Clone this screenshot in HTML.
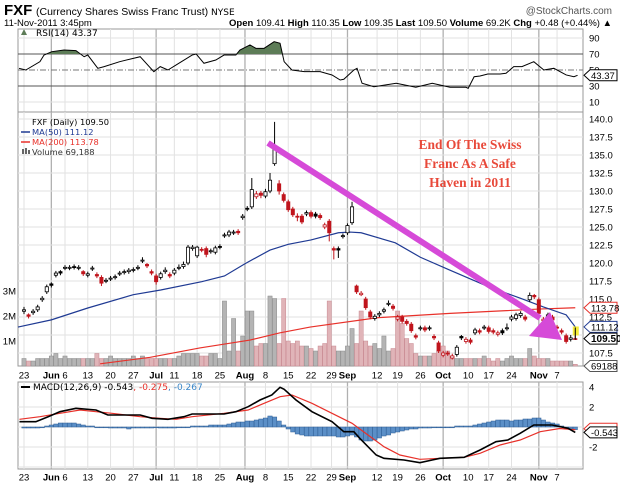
<!DOCTYPE html>
<html><head><meta charset="utf-8"><style>
html,body{margin:0;padding:0;background:#fff;}
svg{display:block;font-family:"Liberation Sans",sans-serif;}
</style></head><body>
<svg id="chart" width="620" height="484" viewBox="0 0 620 484" xmlns="http://www.w3.org/2000/svg">
<g>
<text x="4" y="15" font-size="15" font-weight="bold" fill="#000">FXF</text>
<text x="36" y="15" font-size="10.5" fill="#000">(Currency Shares Swiss Franc Trust) <tspan font-family="DejaVu Sans" font-size="9">NYSE</tspan></text>
<text x="612" y="14" font-size="10" fill="#555" text-anchor="end">@StockCharts.com</text>
<text x="4" y="26" font-size="9.5" fill="#000">11-Nov-2011 3:45pm</text>
<text x="612" y="26" font-size="9.5" fill="#000" text-anchor="end"><tspan font-weight="bold">Open</tspan> 109.41 <tspan font-weight="bold">High</tspan> 110.35 <tspan font-weight="bold">Low</tspan> 109.35 <tspan font-weight="bold">Last</tspan> 109.50 <tspan font-weight="bold">Volume</tspan> 69.2K <tspan font-weight="bold">Chg</tspan> +0.48 (+0.44%) ▲</text>
</g>
<g id="grid"></g>
<g id="marks"></g>
<g id="labels"></g>
</svg>
<script>
// ---- data ----
const closes=[113.5,112.6,113.3,113.9,115.1,116.7,116.9,118.6,118.6,119.4,
119.4,119.4,119.4,118.5,118.5,119.3,118.2,117.2,117.6,117.9,
118.1,118.6,118.8,119.0,119.1,119.4,120.4,119.6,118.6,117.4,
118.5,119.0,118.2,119.0,119.4,119.8,122.2,122.2,122.2,121.8,
121.2,121.7,122.1,122.2,123.9,124.3,124.3,124.2,126.5,127.5,
130.2,129.6,129.4,129.9,131.5,136.1,130.0,128.7,127.4,126.7,
126.4,125.7,127.0,126.5,126.5,126.3,125.3,124.2,121.8,121.8,
123.8,125.2,127.8,116.0,115.8,113.8,112.5,112.6,113.0,113.5,
114.4,113.7,112.5,111.9,111.6,110.6,109.7,111.0,110.7,111.0,
109.6,107.8,107.5,107.4,107.1,108.3,109.6,109.4,109.0,110.7,
110.4,111.1,110.5,110.4,110.3,110.3,111.0,112.5,112.8,113.0,
112.2,115.5,115.3,113.0,112.2,112.8,112.1,111.0,110.4,109.1,
109.6,109.5];
const opens=[113.3,112.8,113.1,113.5,114.9,116.0,117.1,118.3,118.8,119.3,
119.3,119.5,119.3,118.8,118.3,119.2,118.4,118.0,117.5,117.8,
118.0,118.5,118.7,118.8,119.0,119.3,120.3,119.8,118.8,118.2,
118.0,118.8,118.4,118.6,119.3,119.5,120.0,122.0,121.0,121.9,
122.0,121.6,121.5,122.3,123.8,123.9,124.2,124.4,126.3,127.6,
127.8,129.2,129.7,129.3,130.0,133.8,131.0,129.5,128.5,127.5,
126.5,126.5,126.8,127.0,126.8,126.6,125.0,125.8,122.0,122.0,
123.7,124.2,125.6,116.8,115.6,115.0,113.2,112.3,112.8,113.3,
114.3,114.0,112.2,112.5,111.9,111.5,109.9,110.9,111.0,110.9,
109.8,108.9,107.2,107.5,106.8,107.3,109.8,109.1,109.3,110.3,
110.6,111.0,111.0,110.6,110.1,110.6,110.9,112.2,112.3,112.7,
112.5,114.9,115.5,114.9,112.0,112.4,112.5,111.1,110.6,109.9,
109.4,109.41];
const highs=[113.9,113.0,113.6,114.2,115.4,117.0,117.3,118.9,119.0,119.7,
119.7,119.8,119.7,119.0,118.8,119.6,118.7,118.3,117.9,118.2,
118.4,118.9,119.1,119.3,119.4,119.7,120.8,120.0,119.1,118.5,
118.8,119.4,118.7,119.3,119.8,120.2,122.5,122.5,122.4,122.2,
122.3,122.0,122.4,122.6,124.2,124.6,124.6,124.7,126.8,127.9,
131.8,130.0,130.0,130.3,132.5,139.6,131.5,129.8,128.8,127.8,
126.9,126.8,127.3,127.3,127.1,126.9,125.6,126.1,122.3,122.3,
124.1,125.5,128.5,117.0,116.1,115.3,113.5,112.9,113.3,113.8,
114.8,114.3,112.8,112.8,112.2,111.8,110.2,111.3,111.3,111.3,
110.1,109.2,107.8,107.8,107.4,108.6,110.0,109.7,109.6,111.0,
110.9,111.4,111.3,110.9,110.6,110.9,111.6,112.8,113.1,113.3,
112.8,115.9,115.7,115.2,112.5,113.1,112.8,111.4,110.9,110.2,
110.0,110.35];
const lows=[112.9,112.3,112.8,113.2,114.6,115.7,116.6,118.0,118.3,119.0,
119.0,119.1,119.0,118.2,118.0,118.9,117.9,116.8,117.2,117.5,
117.7,118.2,118.4,118.5,118.7,119.0,120.0,119.3,118.3,117.0,
117.7,118.5,117.9,118.3,119.0,119.2,119.7,121.7,120.7,121.5,
120.8,121.3,121.2,121.9,123.5,123.6,123.9,123.9,126.0,127.2,
127.5,128.9,129.0,129.0,129.7,133.5,129.5,128.4,127.1,126.4,
125.8,125.4,126.5,126.2,126.2,126.0,124.7,123.0,120.5,120.7,
123.4,123.9,125.3,115.7,115.4,113.5,112.2,112.0,112.5,113.0,
114.0,113.4,111.9,111.6,111.3,110.3,109.4,110.6,110.4,110.6,
109.3,107.5,106.9,107.1,106.6,107.0,109.3,108.8,108.7,110.0,
110.1,110.7,110.2,110.1,109.8,110.0,110.6,111.9,112.0,112.4,
111.9,114.6,115.0,112.5,111.7,112.1,111.8,110.6,110.1,108.8,
109.1,109.35];
const volumesM=[.3,.2,.2,.3,.3,.3,.4,.5,.3,.4,
.3,.3,.3,.3,.3,.3,.5,.3,.3,.4,
.3,.3,.3,.3,.4,.3,.4,.3,.3,.3,
.3,.3,.3,.3,.4,.5,.5,.5,.5,.4,
.4,.5,.5,.3,2.6,.6,1.9,.6,1.2,2.2,
2.2,.8,.9,.9,2.8,2.7,.9,2.7,1.0,.9,
1.0,.8,.8,.7,.6,.8,.9,2.6,.8,.6,
.6,.8,1.5,.9,2.2,1.0,.8,.9,.7,1.2,
.6,.7,2.2,1.7,1.1,.9,.5,.4,.4,.4,
.5,.6,.8,.6,.4,.3,.3,.3,.3,.3,
.3,.4,.3,.2,.3,.2,.3,.4,.3,.3,
.3,.7,.4,.3,.3,.3,.2,.2,.2,.2,
.2,.07];
const ma50Days=[-5,6,14,24,30,39,44,48.5,54,58,63,69,71.5,74,81.5,87,93.5,102,109,114,119,121];
const ma50Vals=[111.1,112.1,113.75,115.6,116.25,117.4,118.2,119.9,121.8,122.6,123.2,124.2,124.3,124.2,122.8,120.8,119.0,116.7,115.1,113.9,112.8,111.12];
const ma200Days=[16.7,27.7,38.6,49.6,56.2,62.8,77.5,93.5,113,121];
const ma200Vals=[106.0,106.9,108.2,109.3,110.3,111.1,112.4,113.0,113.6,113.78];
const rsiDays=[-1.1,0.4,3.5,4.4,6.1,8.8,11.4,13.2,14,16.2,17.6,21,25.5,28.5,29.9,31.6,33.4,36.9,37.8,39.5,42.1,43.9,46.5,47.4,49.6,50.9,52.7,54.9,56.2,57.1,58.8,61.5,65,67.6,69.4,70.2,72.4,73.1,74.2,76.8,81.7,86,89.6,91.3,93.5,97,97.5,98.8,100.1,101.8,104.5,105.8,107.5,109.3,111.9,114.1,116.3,119,120.7,121.5];
const rsiVals=[52.1,50,60.4,68.7,72.9,75,74.2,66.6,68.7,52.1,54.2,60.4,66.6,47.9,54.2,50,56.3,68.7,70,58.4,62.5,68.7,68.7,75,81.3,77.1,77.1,85.4,83.4,60.4,50,47.9,47.9,43.8,37.5,38.4,50,52.1,33.4,29.1,33.4,28.4,33.4,31.3,28.4,28.4,27.1,41.6,42.5,45,45,45.9,54.2,54.2,60.4,50,52.1,43.8,41.6,43.37];
const macdDays=[-1,2.6,5.3,7.9,11.4,15.8,18.4,25.5,28.1,31.6,35.1,36.9,43.9,46.5,49.2,51.8,54.4,56.2,57.1,59.7,63.2,67.6,70.2,72.4,73.7,77.3,79,83.4,86.9,89.6,91.3,96.6,100.1,103.6,106.2,108.9,111.9,115.9,119.4,121];
const macdVals=[.53,.53,1.03,1.53,1.87,1.7,1.2,1.2,.87,.77,1.03,1.3,1.3,1.53,2.03,2.7,3.2,3.97,3.77,2.7,1.53,.53,-.47,-.47,-1.13,-2.8,-3.13,-3.3,-3.57,-3.3,-3.13,-3.03,-2.3,-1.47,-1.3,-.63,.2,.2,-.13,-.543];
const signalDays=[-1,3.5,7.9,12.3,15.8,19.3,25.5,29.9,33.4,36.9,43.9,49.2,52.7,56.2,58.8,63.2,67.6,72,75.5,79,82.5,86.9,91.3,96.6,100.1,104.5,108.9,113.3,117.6,121];
const signalVals=[.77,1.03,1.37,1.7,1.53,1.37,1.03,.87,.77,1.03,1.37,1.7,2.37,3.03,3.2,2.37,1.37,.37,-.8,-1.97,-2.8,-3.23,-3.13,-3.03,-2.63,-1.8,-1.3,-.47,-.15,-.275];
const histVals=[-.1,-.1,-.1,-.1,0,.1,.2,.3,.4,.4,
.4,.4,.3,.2,.1,.1,0,0,0,-.1,
-.1,-.1,-.1,-.2,-.1,-.1,-.1,-.1,-.1,0,
-.1,-.1,-.1,-.1,0,0,0,.1,.1,.1,
.1,.2,.2,.2,.2,.3,.4,.5,.5,.6,
.6,.7,.8,.9,1.1,1.0,.6,.2,-.2,-.5,
-.7,-.8,-.9,-.9,-.9,-.9,-.9,-.9,-.9,-1.0,
-1.0,-.9,-.8,-1.0,-1.3,-1.4,-1.4,-1.3,-1.1,-.9,
-.8,-.6,-.5,-.4,-.3,-.2,-.2,-.1,-.1,-.1,
0,0,0,0,0,.1,.1,.1,.1,.2,
.3,.4,.5,.6,.7,.7,.7,.6,.7,.7,
.8,.8,.9,.9,.7,.5,.4,.3,.1,-.1,
-.2,-.267];
const tickDays=[0,6,9,14,19,24,29,33,38,43,48.5,53,58,63,67.5,71,77.5,82,87,92,97.5,102,107,113,117];
const tickLabels=["23","Jun","6","13","20","27","Jul","11","18","25","Aug","8","15","22","29","Sep","12","19","26","Oct","10","17","24","Nov","7"];
const monthTick=[0,1,0,0,0,0,1,0,0,0,1,0,0,0,0,1,0,0,0,1,0,0,0,1,0];
const priceTicks=[140.0,137.5,135.0,132.5,130.0,127.5,125.0,122.5,120.0,117.5,115.0,112.5,110.0,107.5];
const rsiTicks=[90,70,50,30,10];
const macdTicks=[4,2,-2];
const volTicks=[1,2,3];

// ---- geometry ----
const L=18,R=583;
const RSI_T=29,RSI_B=112,MAIN_T=112,MAIN_B=366,MACD_T=382,MACD_B=469;
const X=i=>24+i*4.556;
const YP=p=>119+(140-p)*7.2;
const YV=v=>366-v*25;
const YR=v=>54+(70-v)*0.8;
const YM=v=>427-v*10;
const NS="http://www.w3.org/2000/svg";
function mk(tag,parent,attrs){const e=document.createElementNS(NS,tag);for(const k in attrs)e.setAttribute(k,attrs[k]);parent.appendChild(e);return e;}
const G=document.getElementById('grid'),M=document.getElementById('marks'),LB=document.getElementById('labels');

// panels + grids
[[RSI_T,RSI_B,'rsi-panel'],[MAIN_T,MAIN_B,'price-panel'],[MACD_T,MACD_B,'macd-panel']].forEach(([t,b,n])=>{
 const r=mk('rect',G,{x:L,y:t,width:R-L,height:b-t,fill:'#fff',stroke:'#999','stroke-width':1});
 
 
 tickDays.forEach((d,k)=>{
  const gl=mk('line',G,{x1:X(d),x2:X(d),y1:t,y2:b,stroke:monthTick[k]?'#b0b0b0':'#e2e2e2','stroke-width':monthTick[k]?1.3:1});
  
  
 });
});
priceTicks.forEach(p=>{
 const gl=mk('line',G,{x1:L,x2:R,y1:YP(p),y2:YP(p),stroke:'#e2e2e2'});
 
 
 const t=mk('text',LB,{x:589,y:YP(p)+3.5,'font-size':9.5,fill:'#000'});t.textContent=p.toFixed(1);
 
 
});
rsiTicks.forEach(v=>{
 const ref=(v==70||v==30);
 const gl=mk('line',G,{x1:L,x2:R,y1:YR(v),y2:YR(v),stroke:ref?'#555':(v==50?'#777':'#e2e2e2'),'stroke-dasharray':v==50?'6,2,1,2':'none'});
 
 
 const t=mk('text',LB,{x:589,y:YR(v)+3.5,'font-size':9.5,fill:'#000'});t.textContent=v;
 
 
});
[4,2,0,-2,-4].forEach(v=>{
 const gl=mk('line',G,{x1:L,x2:R,y1:YM(v),y2:YM(v),stroke:'#e2e2e2'});
 
 
});
macdTicks.forEach(v=>{
 const t=mk('text',LB,{x:589,y:YM(v)+3.5,'font-size':9.5,fill:'#000'});t.textContent=v;
 
 
});
volTicks.forEach(v=>{
 const t=mk('text',LB,{x:16,y:YV(v)+3.5,'font-size':9.5,fill:'#000','text-anchor':'end'});t.textContent=v+'M';
 
 
});
[375,477].forEach(y=>{
 tickDays.forEach((d,k)=>{
  const t=mk('text',LB,{x:X(d),y:y+3.5,'font-size':9.5,fill:'#000','text-anchor':'middle','font-weight':monthTick[k]?'bold':'normal'});
  t.textContent=tickLabels[k];
  
  
 });
});

// RSI overbought fill + line
const rsiPts=rsiDays.map((d,i)=>[X(d),YR(rsiVals[i])]);
const clip=mk('clipPath',M,{id:'ob'});mk('rect',clip,{x:L,y:RSI_T,width:R-L,height:YR(70)-RSI_T});
const rf=mk('path',M,{d:'M'+rsiPts[0][0]+','+YR(70)+' L'+rsiPts.map(p=>p.join(',')).join(' L')+' L'+rsiPts[rsiPts.length-1][0]+','+YR(70)+'Z',fill:'#5d7c57','clip-path':'url(#ob)'});


const rl=mk('polyline',M,{points:rsiPts.map(p=>p.join(',')).join(' '),fill:'none',stroke:'#000','stroke-width':1});



// volume bars
volumesM.forEach((v,i)=>{
 const down=i>0&&closes[i]<closes[i-1];
 const b=mk('rect',M,{x:X(i)-2.1,y:YV(v),width:4.2,height:MAIN_B-YV(v),fill:down?'#e0b4b8':'#b4b4b4',stroke:down?'#c88890':'#8a8a8a','stroke-width':0.5});
 
 
});
// MA lines
const ma200=mk('polyline',M,{points:ma200Days.map((d,i)=>X(d)+','+YP(ma200Vals[i])).join(' '),fill:'none',stroke:'#e8312a','stroke-width':1.2});


const ma50=mk('polyline',M,{points:ma50Days.map((d,i)=>Math.max(L,X(d))+','+YP(ma50Vals[i])).join(' '),fill:'none',stroke:'#1f3a93','stroke-width':1.2});



// candles
closes.forEach((c,i)=>{
 const o=opens[i],up=c>=o,col=(i>0&&c<closes[i-1])?'#c0141c':'#000';
 const x=X(i);
 const w=mk('line',M,{x1:x,x2:x,y1:YP(highs[i]),y2:YP(lows[i]),stroke:col,'stroke-width':1});
 
 
 const top=YP(Math.max(o,c)),h=Math.max(1,Math.abs(YP(o)-YP(c)));
 const b=mk('rect',M,{x:x-1.6,y:top,width:3.2,height:h,fill:up?'#fff':col,stroke:col,'stroke-width':0.8});
 
 
});
const last=closes.length-1;
const ym=mk('rect',M,{x:X(last)-2.5,y:YP(highs[last])-6,width:6,height:9,fill:'#f5ec3a'});


mk('line',M,{x1:X(last),x2:X(last),y1:YP(highs[last])-5,y2:YP(lows[last]),stroke:'#000'});

// MACD histogram + lines
histVals.forEach((v,i)=>{
 const b=mk('rect',M,{x:X(i)-2.2,y:Math.min(YM(0),YM(v)),width:4.4,height:Math.max(0.8,Math.abs(YM(v)-YM(0))),fill:'#5b8fc7',stroke:'#2f5f96','stroke-width':0.5});
 
 
});
const sig=mk('polyline',M,{points:signalDays.map((d,i)=>Math.max(L,X(d))+','+YM(signalVals[i])).join(' '),fill:'none',stroke:'#e8312a','stroke-width':1.2});


const mac=mk('polyline',M,{points:macdDays.map((d,i)=>Math.max(L,X(d))+','+YM(macdVals[i])).join(' '),fill:'none',stroke:'#000','stroke-width':1.6});



// right-side value boxes
function tag(y,txt,stroke,bold,name){
 const g=mk('g',LB,{});
 
 
 mk('path',g,{d:`M584,${y} L590,${y-5.5} L617,${y-5.5} L617,${y+5.5} L590,${y+5.5} Z`,fill:'#fff',stroke:stroke,'stroke-width':1});
 const t=mk('text',g,{x:591,y:y+3.5,'font-size':bold?10:9.5,'font-weight':bold?'bold':'normal',fill:'#000'});t.textContent=txt;
}
tag(YR(rsiVals[rsiVals.length-1]),'43.37','#000',false,'rsi-value-tag');
tag(YP(113.78),'113.78','#e8312a',false,'ma200-value-tag');
tag(YP(111.12),'111.12','#1f3a93',false,'ma50-value-tag');
tag(YP(closes[last]),'109.50','#000',true,'last-price-tag');
tag(MAIN_B,'69188','#555',false,'volume-value-tag');
tag(YM(signalVals[signalVals.length-1])-1,'','#e8312a',false,'signal-value-tag');
tag(YM(macdVals[macdVals.length-1]),'-0.543','#000',false,'macd-value-tag');

// annotation arrow
const ar=mk('line',M,{x1:268,y1:143,x2:540,y2:318,stroke:'#d64ad8','stroke-width':6});


const ah=mk('polygon',M,{points:'562,340 529,336 550,312',fill:'#d64ad8'});


</script>
<svg width="0" height="0"></svg>
<div style="position:absolute;left:0;top:0;width:620px;height:484px;pointer-events:none">
<svg width="620" height="484" style="position:absolute;left:0;top:0">
<text x="36" y="36" font-family="DejaVu Sans" font-size="9" fill="#000">RSI(14) 43.37</text>
<path d="M21,35 l3,-6 l3,6 z" fill="#5d7c57"/>
<g font-family="DejaVu Sans" font-size="8.3">
<text x="32" y="125" fill="#000">FXF (Daily) 109.50</text>
<line x1="21" y1="132" x2="30" y2="132" stroke="#1f3a93" stroke-width="1.5"/>
<text x="32" y="135" fill="#1f3a93">MA(50) 111.12</text>
<line x1="21" y1="142" x2="30" y2="142" stroke="#e8312a" stroke-width="1.5"/>
<text x="32" y="145" fill="#e8312a">MA(200) 113.78</text>
<rect x="22" y="149" width="2" height="5" fill="#666"/><rect x="25" y="148" width="2" height="6" fill="#666"/><rect x="28" y="150" width="2" height="4" fill="#666"/>
<text x="32" y="155" fill="#333">Volume 69,188</text>
</g>
<line x1="21" y1="387" x2="30" y2="387" stroke="#000" stroke-width="2"/>
<text x="33" y="390" font-family="DejaVu Sans" font-size="9"><tspan fill="#000">MACD(12,26,9) -0.543</tspan><tspan fill="#e8312a">, -0.275</tspan><tspan fill="#3a86c8">, -0.267</tspan></text>
<g font-family="Liberation Serif,serif" font-weight="bold" font-size="13.5" fill="#e8493a" text-anchor="middle">
<text x="470" y="149">End Of The Swiss</text>
<text x="470" y="168">Franc As A Safe</text>
<text x="470" y="187">Haven in 2011</text>
</g>
</svg>
</div>
</body></html>
